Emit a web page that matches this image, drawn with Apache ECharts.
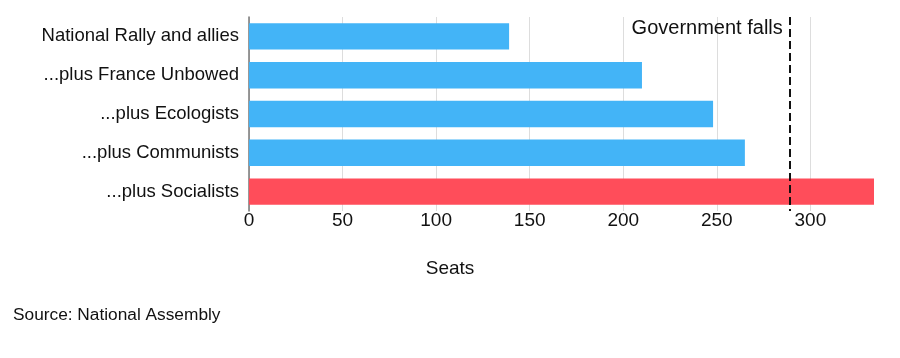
<!DOCTYPE html>
<html>
<head>
<meta charset="utf-8">
<script src="https://cdn.jsdelivr.net/npm/echarts@6/dist/echarts.min.js"></script>
<style>
html,body{margin:0;padding:0;background:#fff;}
#chart{width:900px;height:358px;}
</style>
</head>
<body>
<div id="chart"></div>
<script>
const categories = ['National Rally and allies', '...plus France Unbowed', '...plus Ecologists', '...plus Communists', '...plus Socialists'];
const seats = [139, 210, 248, 265, 334];
const barColors = ['#43b4f7', '#43b4f7', '#43b4f7', '#43b4f7', '#ff4d5a'];
const thresholdValue = 289;
const thresholdLabel = 'Government falls';
const axisTitle = 'Seats';
const sourceText = 'Source: National Assembly';

const FONT = "'Liberation Sans', Arial, sans-serif";
const chart = echarts.init(document.getElementById('chart'), null, {renderer: 'canvas'});

chart.setOption({
  backgroundColor: '#ffffff',
  animation: false,
  textStyle: {fontFamily: FONT},
  title: [
    {text: axisTitle, left: 'center', top: 259, padding: 0,
     textStyle: {fontSize: 19, fontWeight: 'normal', color: '#111111', fontFamily: FONT}},
    {text: sourceText, left: 13, top: 307, padding: 0,
     textStyle: {fontSize: 17.3, fontWeight: 'normal', color: '#111111', fontFamily: FONT}}
  ],
  grid: {left: 249, top: 17, height: 194, right: 26, containLabel: false},
  xAxis: {
    type: 'value', min: 0, max: 334, interval: 50,
    axisLine: {show: false}, axisTick: {show: false},
    splitLine: {show: true, showMaxLine: false, lineStyle: {color: '#dddddd', width: 1}},
    axisLabel: {fontSize: 19, color: '#111111', margin: 0, showMaxLabel: false, fontFamily: FONT}
  },
  yAxis: {
    type: 'category', data: categories, inverse: true,
    axisLine: {show: true, lineStyle: {color: '#777777', width: 1.5}},
    axisTick: {show: false},
    axisLabel: {fontSize: 18.5, color: '#111111', margin: 10, fontFamily: FONT}
  },
  series: [{
    type: 'bar',
    data: seats.map((v, i) => ({value: v, itemStyle: {color: barColors[i]}})),
    barCategoryGap: '32%',
    markLine: {
      silent: true, symbol: 'none', animation: false,
      lineStyle: {color: '#111111', type: [8, 4], width: 2},
      label: {show: false},
      data: [{xAxis: thresholdValue}]
    },
    markPoint: {
      silent: true, symbol: 'circle', symbolSize: 0,
      label: {show: true, position: 'left', distance: 7, offset: [0, -8],
              formatter: thresholdLabel, fontSize: 20, color: '#111111', fontFamily: FONT},
      data: [{coord: [thresholdValue, categories[0]]}]
    }
  }]
});
</script>
</body>
</html>
